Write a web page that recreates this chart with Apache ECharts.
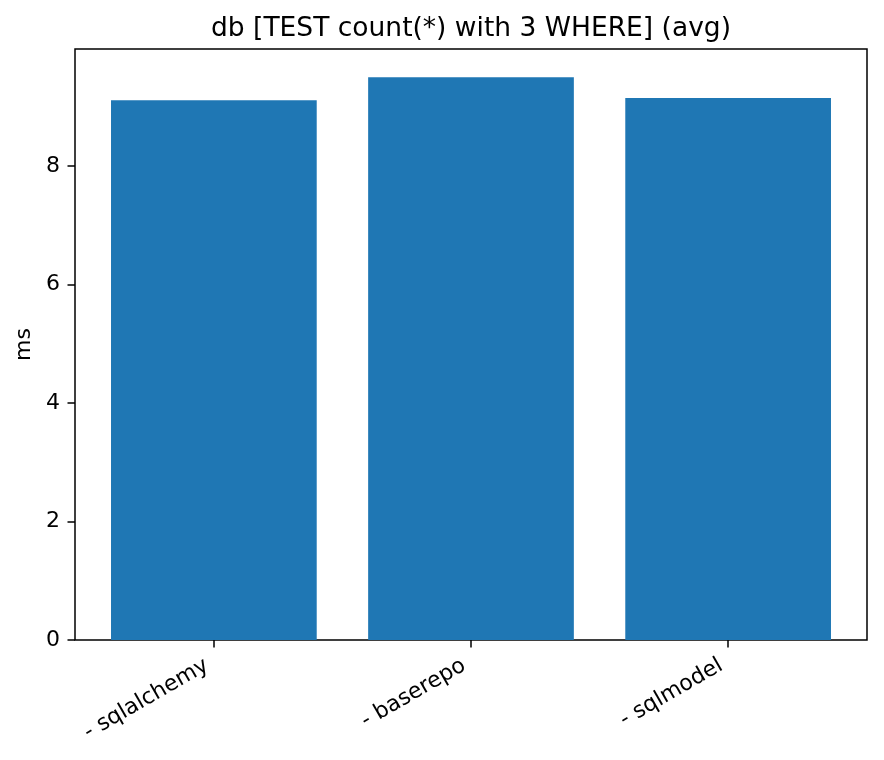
<!DOCTYPE html>
<html>
<head>
<meta charset="utf-8">
<script src="https://cdn.jsdelivr.net/npm/echarts@6/dist/echarts.min.js"></script>
<style>html,body{margin:0;padding:0;background:#fff;}#c{width:884px;height:760px;}</style>
</head>
<body>
<div id="c"></div>
<script>
const categories = ['- sqlalchemy', '- baserepo', '- sqlmodel'];
const avgMs = [9.11, 9.50, 9.15];
const yTicks = [0, 2, 4, 6, 8];
const titleText = 'db [TEST count(*) with 3 WHERE] (avg)';
const yLabel = 'ms';

const yMax = Math.max(...avgMs) * 1.05;
const font = 'DejaVu Sans';
const chart = echarts.init(document.getElementById('c'), null, {renderer: 'canvas'});
chart.setOption({
  animation: false,
  backgroundColor: '#fff',
  title: {
    text: titleText,
    left: 466, top: 11, textAlign: 'center',
    textStyle: {fontFamily: font, fontSize: 26.5, fontWeight: 'normal', color: '#000'}
  },
  grid: [
    {left: 75, right: 17, top: 49, bottom: 120, show: true, borderColor: '#000', borderWidth: 1.5, backgroundColor: 'transparent', containLabel: false},
    {left: 85.3, width: 771.4, top: 49, bottom: 120, show: false}
  ],
  xAxis: [
    {gridIndex: 0, type: 'value', min: 0, max: 1, show: false},
    {gridIndex: 1, type: 'category', data: categories,
     axisLine: {show: false},
     axisTick: {show: true, alignWithLabel: true, length: 7.5, lineStyle: {color: '#000', width: 1.5}},
     axisLabel: {rotate: 30, fontFamily: font, fontSize: 22, color: '#000', margin: 20, interval: 0, padding: [0, 8, 0, 0]},
     splitLine: {show: false}}
  ],
  yAxis: [
    {gridIndex: 0, type: 'value', min: 0, max: yMax, interval: 2,
     name: yLabel, nameLocation: 'middle', nameGap: 33, nameRotate: 90,
     nameTextStyle: {fontFamily: font, fontSize: 22, color: '#000'},
     axisLine: {show: false},
     axisTick: {show: true, length: 7.5, lineStyle: {color: '#000', width: 1.5}},
     axisLabel: {fontFamily: font, fontSize: 22, color: '#000', margin: 15,
       showMaxLabel: false,
       formatter: v => (yTicks.includes(v) ? String(v) : '')},
     splitLine: {show: false}},
    {gridIndex: 1, type: 'value', min: 0, max: yMax, show: false, splitLine: {show: false}}
  ],
  series: [{
    type: 'bar', xAxisIndex: 1, yAxisIndex: 1,
    data: avgMs, barWidth: '80%',
    itemStyle: {color: '#1f77b4'}
  }]
});
</script>
</body>
</html>
